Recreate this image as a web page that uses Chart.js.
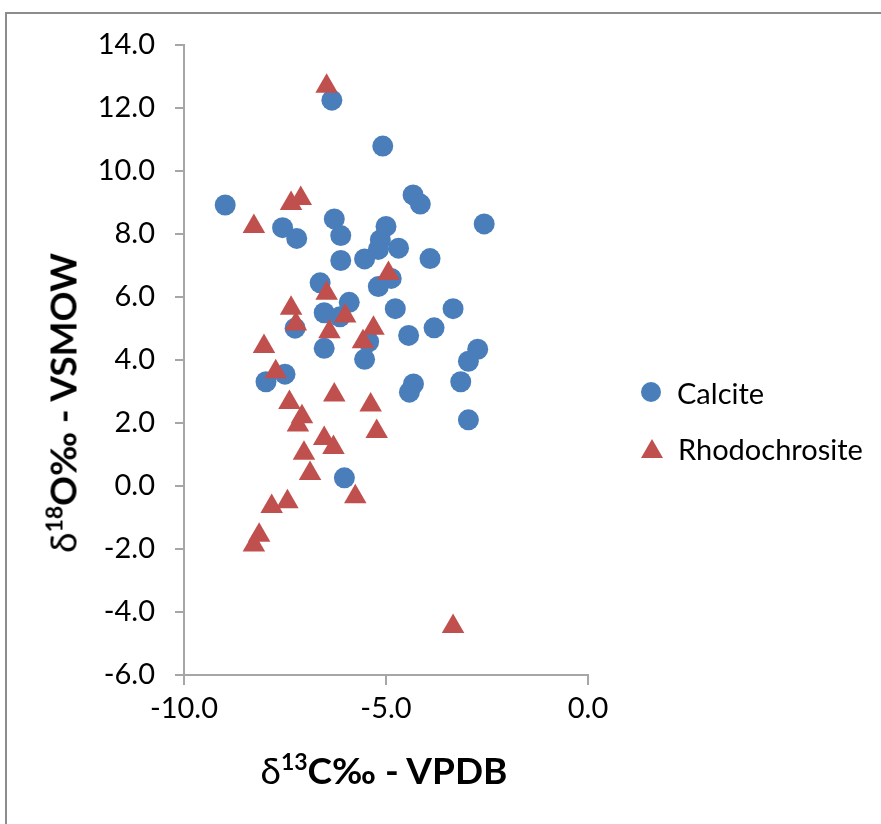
<!DOCTYPE html>
<html>
<head>
<meta charset="utf-8">
<script src="https://cdn.jsdelivr.net/npm/chart.js@4.4.1/dist/chart.umd.min.js"></script>
<style>
    html, body { margin: 0; padding: 0; background: #fff; }
    body { width: 881px; height: 824px; position: relative; overflow: hidden; font-family: Lato, "Open Sans", sans-serif; }
    #frame { position: absolute; left: 5px; top: 12px; width: 1000px; height: 1000px; border-left: 2px solid #8c8c8c; border-top: 2px solid #8c8c8c; }
    #wrap { position: absolute; left: 0; top: 0; width: 881px; height: 824px; }
    .title { position: absolute; font-weight: bold; font-size: 37px; color: #000; white-space: nowrap; }
    .title sup { font-size: 23px; vertical-align: 14px; line-height: 0; }
    .title .d { font-weight: normal; }
    #xTitle { left: 384px; top: 769px; transform: translate(-50%, -50%); }
    #yTitle { left: 62px; top: 403px; transform: translate(-50%, -50%) rotate(-90deg); }
    #legend { position: absolute; left: 641px; top: 373px; font-size: 29px; color: #000; }
    .item { display: flex; align-items: center; height: 38px; margin-bottom: 18px; }
    .dot { width: 20px; height: 20px; border-radius: 50%; background: #4a7ebb; margin-right: 16px; }
    .tri { width: 0; height: 0; border-left: 11px solid transparent; border-right: 11px solid transparent; border-bottom: 19px solid #c0504d; margin-right: 15px; }
</style>
</head>
<body>
<div id="frame"></div>
<div id="wrap"><canvas id="scatterChart" width="881" height="824"></canvas></div>
<div class="title" id="xTitle"><span class="d">δ</span><sup>13</sup>C‰ - VPDB</div>
<div class="title" id="yTitle"><span class="d">δ</span><sup>18</sup>O‰ - VSMOW</div>
<div id="legend">
    <div class="item"><span class="dot"></span><span>Calcite</span></div>
    <div class="item"><span class="tri"></span><span>Rhodochrosite</span></div>
</div>
<script>
// Calcite: d13C (x) and d18O (y)
const calciteX = [-6.34, -5.08, -8.98, -4.33, -4.15, -2.57, -7.56, -7.21, -6.28, -6.12,
                  -5.00, -5.14, -5.19, -4.69, -6.12, -5.53, -3.91, -4.87, -6.63, -5.19,
                  -5.91, -6.53, -6.14, -4.77, -3.34, -7.25, -5.43, -4.44, -3.81, -6.53,
                  -5.53, -2.73, -2.96, -7.50, -7.97, -4.32, -4.42, -3.15, -2.96, -6.03];
const calciteY = [12.25, 10.79, 8.92, 9.24, 8.95, 8.32, 8.20, 7.86, 8.48, 7.95,
                  8.24, 7.81, 7.51, 7.55, 7.16, 7.21, 7.22, 6.59, 6.45, 6.33,
                  5.83, 5.50, 5.37, 5.63, 5.63, 5.01, 4.58, 4.78, 5.02, 4.37,
                  4.02, 4.34, 3.96, 3.55, 3.31, 3.24, 2.98, 3.31, 2.10, 0.26];

// Rhodochrosite
const rhodoX = [-6.47, -7.35, -7.11, -8.27, -4.94, -6.47, -7.35, -6.01, -7.23, -6.40,
                -5.31, -5.57, -8.02, -7.73, -6.28, -7.39, -5.38, -7.08, -7.18, -5.23,
                -6.53, -6.30, -7.03, -6.88, -5.76, -7.44, -7.83, -8.14, -8.27, -3.34];
const rhodoY = [12.69, 8.97, 9.13, 8.24, 6.75, 6.12, 5.64, 5.40, 5.14, 4.90,
                5.01, 4.58, 4.43, 3.63, 2.89, 2.65, 2.57, 2.20, 1.94, 1.73,
                1.51, 1.22, 1.04, 0.40, -0.34, -0.50, -0.65, -1.56, -1.87, -4.46];

const xTicks = [-10, -5, 0];
const yTicks = [-6, -4, -2, 0, 2, 4, 6, 8, 10, 12, 14];

const toPoints = (xs, ys) => xs.map((x, i) => ({ x: x, y: ys[i] }));

const axisColor = '#a6a6a6';
const tickFont = { family: 'Lato', size: 29 };

const ctx = document.getElementById('scatterChart').getContext('2d');
new Chart(ctx, {
    type: 'scatter',
    data: {
        datasets: [
            {
                label: 'Calcite',
                data: toPoints(calciteX, calciteY),
                pointStyle: 'circle',
                pointRadius: 10.5,
                pointHoverRadius: 10.5,
                backgroundColor: '#4a7ebb',
                borderColor: '#4a7ebb',
                borderWidth: 0,
                order: 1
            },
            {
                label: 'Rhodochrosite',
                data: toPoints(rhodoX, rhodoY),
                pointStyle: 'triangle',
                pointRadius: 13,
                pointHoverRadius: 13,
                backgroundColor: '#c0504d',
                borderColor: '#c0504d',
                borderWidth: 0,
                order: 0
            }
        ]
    },
    options: {
        responsive: false,
        animation: false,
        layout: { padding: { left: 0, top: 45, right: 293, bottom: 0 } },
        plugins: {
            legend: { display: false },
            tooltip: { enabled: false }
        },
        scales: {
            x: {
                type: 'linear',
                min: -10,
                max: 0,
                afterBuildTicks: (scale) => { scale.ticks = xTicks.map(v => ({ value: v })); },
                afterFit: (scale) => { scale.height = 149; },
                border: { color: axisColor, width: 2 },
                grid: { drawOnChartArea: false, tickLength: 10, color: axisColor, lineWidth: 2 },
                ticks: {
                    color: '#000',
                    font: tickFont,
                    padding: 6,
                    maxRotation: 0,
                    callback: (v) => v.toFixed(1)
                }
            },
            y: {
                type: 'linear',
                min: -6,
                max: 14,
                afterBuildTicks: (scale) => { scale.ticks = yTicks.map(v => ({ value: v })); },
                afterFit: (scale) => { scale.width = 184; },
                border: { color: axisColor, width: 2 },
                grid: { drawOnChartArea: false, tickLength: 9, color: axisColor, lineWidth: 2 },
                ticks: {
                    color: '#000',
                    font: tickFont,
                    padding: 20,
                    callback: (v) => v.toFixed(1)
                }
            }
        }
    }
});
</script>
</body>
</html>
